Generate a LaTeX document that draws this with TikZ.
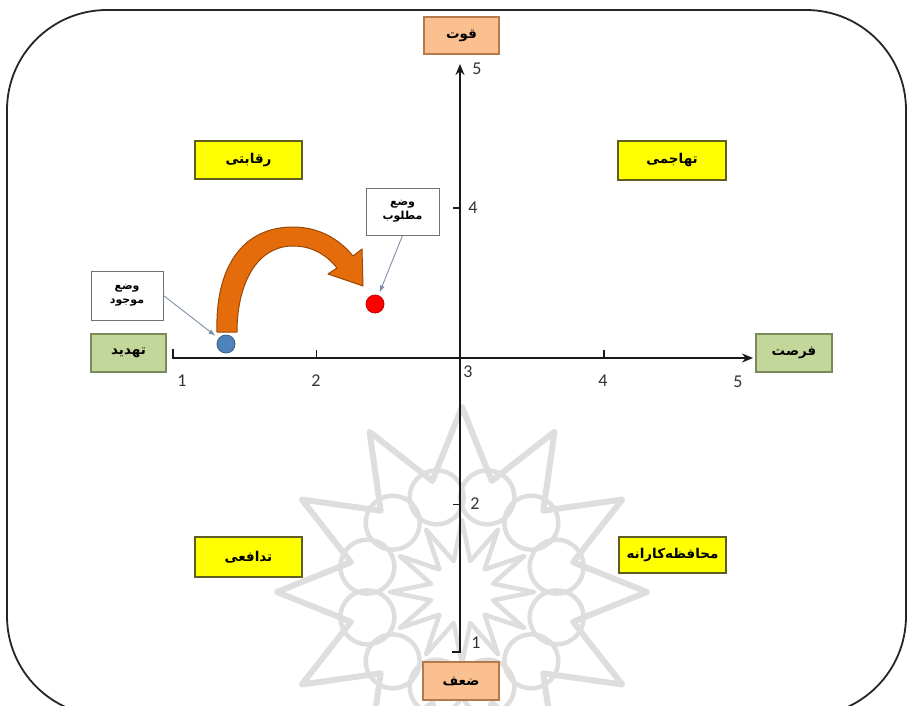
\documentclass[tikz,border=0pt]{standalone}
\usepackage{fontspec}
\TeXXeTstate=1
\newfontfamily\arabicfont[Script=Arabic]{DejaVu Sans}
\newfontfamily\numfont{Carlito}
\usetikzlibrary{arrows.meta,calc}
\definecolor{yelfill}{HTML}{FFFF00}
\definecolor{yeldraw}{HTML}{5E5E22}
\definecolor{grnfill}{HTML}{C4D79B}
\definecolor{grndraw}{HTML}{7A8A5A}
\definecolor{orgfill}{HTML}{FAC090}
\definecolor{orgdraw}{HTML}{B7794A}
\definecolor{bluedot}{HTML}{4F81BD}
\definecolor{reddot}{HTML}{FF0000}
\definecolor{arrorange}{HTML}{E46C0A}
\definecolor{arrbrown}{HTML}{984807}
\definecolor{callout}{HTML}{7F8FA6}
\definecolor{wmgray}{HTML}{DEDEDE}
\tikzset{
  lbl/.style={font=\arabicfont\bfseries\fontsize{13.5}{15}\selectfont, inner sep=0pt, line width=1.2pt},
  quadbox/.style={lbl, fill=yelfill, draw=yeldraw},
  sidebox/.style={lbl, fill=grnfill, draw=grndraw},
  endbox/.style={lbl, fill=orgfill, draw=orgdraw},
  notebox/.style={font=\arabicfont\bfseries\fontsize{11}{14}\selectfont, inner sep=0pt, fill=white, draw=black!55, line width=1pt, align=center},
  axisline/.style={line width=1.7pt, black!90},
  tick/.style={line width=1.4pt, black!90},
  numlbl/.style={font=\numfont\fontsize{18}{18}\selectfont, text=black!80, inner sep=0pt},
  pointer/.style={callout, line width=0.9pt, -{Latex[length=7pt,width=5pt]}},
  wm/.style={wmgray, line width=6pt, line join=round},
  frame/.style={line width=1.8pt, black!85, rounded corners=100pt}
}
\begin{document}
\begin{tikzpicture}[x=1pt,y=-1pt]
\useasboundingbox (0,0) rectangle (909,705);
\fill[white] (0,0) rectangle (909,705);
% watermark rosette
\coordinate (wc) at (462,592);
\begin{scope}
\clip (0,0) rectangle (909,705);
\draw[wm] plot[samples at={0,1,...,24}, variable=\k] ({462+(150+35*cos(180*\k))*cos(90+15*\k)}, {592+(150+35*cos(180*\k))*sin(90+15*\k)});
\foreach \a in {0,30,...,330} \draw[wm, line width=4.5pt] ($(wc)+(\a+15:98)$) circle (27);
\draw[wm, line width=4.5pt] plot[samples at={0,1,...,24}, variable=\k] ({462+(52+20*cos(180*\k))*cos(90+15*\k)}, {592+(52+20*cos(180*\k))*sin(90+15*\k)});
\end{scope}
% frame
\draw[frame] (7,10) rectangle (906,716);
% axes
\coordinate (xL) at (173,358);
\coordinate (xR) at (753,358);
\coordinate (yB) at (460,652);
\coordinate (yT) at (460,64);
\draw[axisline, -{Stealth[length=11pt,width=9pt]}] ($(xL)+(0,-9)$) -- (xL) -- (xR);
\draw[axisline, -{Stealth[length=11pt,width=9pt]}] ($(yB)+(-8,0)$) -- (yB) -- (yT);
\draw[tick] (316.5,358) -- (316.5,350);
\draw[tick] (604,358) -- (604,350);
\draw[tick] (460,208) -- (453,208);
\draw[tick] (460,504.5) -- (453,504.5);
% tick labels
\node[numlbl] (n1) at (182,381) {1};
\node[numlbl] (n2) at (316,381) {2};
\node[numlbl] (n3) at (468,372) {3};
\node[numlbl] (n4) at (603,381) {4};
\node[numlbl] (n5) at (738,382) {5};
\node[numlbl] (m5) at (477,69) {5};
\node[numlbl] (m4) at (473,208) {4};
\node[numlbl] (m2) at (475,504) {2};
\node[numlbl] (m1) at (476,643) {1};
% end boxes
\node[endbox, minimum width=75pt, minimum height=37pt] (strong) at (461.5,35.5) {\beginR قوت\endR};
\node[endbox, minimum width=76pt, minimum height=38pt] (weak) at (461,681) {\beginR ضعف\endR};
\node[sidebox, minimum width=75pt, minimum height=38pt] (threat) at (128.5,353) {\beginR تهدید\endR};
\node[sidebox, minimum width=76pt, minimum height=38pt] (opp) at (794,353) {\beginR فرصت\endR};
% quadrant boxes
\node[quadbox, minimum width=107pt, minimum height=38pt] (comp) at (248.5,160) {\beginR رقابتی\endR};
\node[quadbox, minimum width=108pt, minimum height=39pt] (aggr) at (672,160.5) {\beginR تهاجمی\endR};
\node[quadbox, minimum width=107pt, minimum height=40pt] (defn) at (248.5,557) {\beginR تدافعی\endR};
\node[quadbox, minimum width=107pt, minimum height=36pt] (cons) at (672.5,555) {\beginR محافظه‌کارانه\endR};
% notes
\node[notebox, minimum width=72pt, minimum height=49pt] (cur) at (127,295.5) {\beginR وضع\endR\\\beginR موجود\endR};
\node[notebox, minimum width=73pt, minimum height=47pt] (des) at (402.5,211.5) {\beginR وضع\endR\\\beginR مطلوب\endR};
% dots
\node[circle, fill=bluedot, draw=bluedot!70!black, line width=0.8pt, minimum size=18pt, inner sep=0pt] (bdot) at (226,344) {};
\node[circle, fill=reddot, draw=reddot!75!black, line width=0.8pt, minimum size=18pt, inner sep=0pt] (rdot) at (375,304) {};
% pointers
\draw[pointer, shorten >=4pt] (cur.east) -- (bdot);
\draw[pointer, shorten >=3pt] (des.south) -- (rdot);
% curved block arrow
\filldraw[fill=arrorange, draw=arrbrown, line width=1pt, line join=round]
  (217,332) .. controls (215,268) and (242,227) .. (293,227)
  .. controls (320,227) and (340,240) .. (353,256)
  -- (362,249) -- (363,286) -- (328,274) -- (337,268)
  .. controls (325,253) and (310,246) .. (293,246)
  .. controls (256,246) and (237,285) .. (237,332) -- cycle;
\end{tikzpicture}
\end{document}
